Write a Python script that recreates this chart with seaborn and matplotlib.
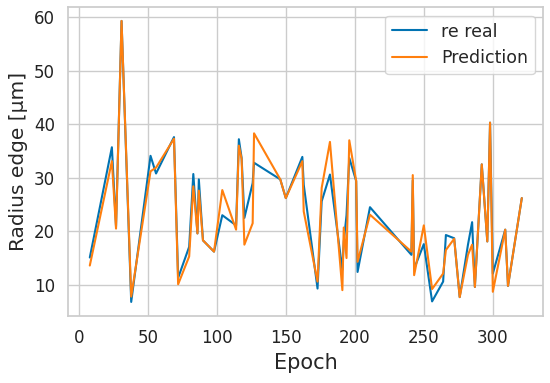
import matplotlib.pyplot as plt
import pandas as pd
import seaborn as sns

# values
epochs = [8, 24, 27, 31, 38, 52, 56, 69, 72, 80, 83, 86, 87, 90, 98, 104,
          114, 116, 118, 120, 126, 127, 146, 150, 162, 163, 173, 176, 182,
          191, 192, 194, 196, 201, 202, 211, 241, 242, 243, 250, 256, 264,
          266, 272, 276, 282, 285, 287, 292, 296, 298, 300, 309, 311, 321]
re_real = [15.1, 35.7, 20.9, 59.3, 6.8, 34.1, 30.8, 37.6, 11.3, 17.1, 30.7,
           19.6, 29.7, 18.3, 16.2, 23.0, 21.1, 37.2, 33.7, 22.5, 29.0, 32.8,
           29.7, 26.2, 33.9, 28.7, 9.3, 25.6, 30.6, 12.8, 18.0, 23.0, 33.7,
           29.4, 12.4, 24.5, 15.6, 29.5, 13.0, 17.6, 6.9, 10.6, 19.3, 18.7,
           7.7, 17.5, 21.7, 9.6, 32.5, 18.1, 40.3, 12.1, 20.3, 9.8, 26.2]
prediction = [13.6, 33.1, 20.5, 59.3, 7.8, 31.2, 31.9, 37.3, 10.1, 15.3, 28.4,
              19.6, 27.6, 18.3, 16.2, 27.7, 20.3, 36.0, 33.5, 17.5, 21.5, 38.3,
              29.7, 26.2, 33.1, 23.7, 10.6, 28.1, 36.7, 9.0, 20.7, 15.0, 37.0,
              29.4, 14.3, 23.1, 16.2, 30.5, 11.8, 21.1, 9.2, 12.1, 16.5, 18.6,
              7.7, 15.6, 17.5, 9.6, 32.5, 18.1, 40.3, 8.7, 20.3, 9.8, 26.2]

df = pd.DataFrame({"Epoch": epochs, "re real": re_real, "Prediction": prediction})
df_long = df.melt(id_vars="Epoch", var_name="series", value_name="value")

sns.set_theme(style="whitegrid")
plt.rcParams["font.family"] = ["DejaVu Sans"]

fig, ax = plt.subplots(figsize=(5.5, 3.83), dpi=100)
sns.lineplot(
    data=df_long,
    x="Epoch",
    y="value",
    hue="series",
    palette=["#0173b2", "#ff7f0e"],
    linewidth=1.5,
    ax=ax,
)
ax.set_xlabel("Epoch", fontsize=15)
ax.set_ylabel("Radius edge [µm]", fontsize=14.5)
ax.tick_params(labelsize=12, colors="#222222")
ax.set_xticks([0, 50, 100, 150, 200, 250, 300])
ax.set_yticks([10, 20, 30, 40, 50, 60])
ax.legend(title=None, loc="upper right", fontsize=12.5)

fig.subplots_adjust(left=0.124, right=0.988, top=0.982, bottom=0.175)
fig.savefig("out.png")
